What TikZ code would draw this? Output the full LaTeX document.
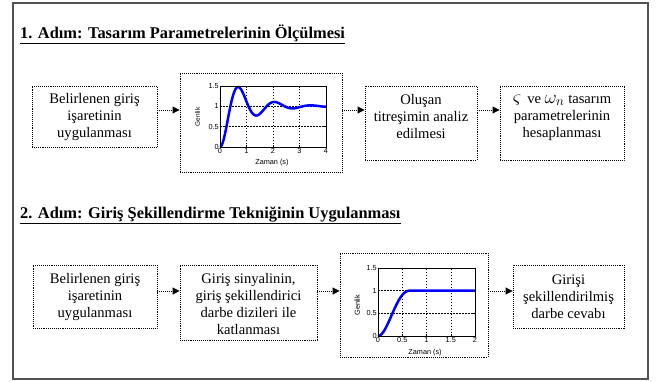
\documentclass[tikz,border=0pt]{standalone}
\usepackage{fontspec}
\usepackage{graphicx}
\setmainfont{Liberation Serif}
\newfontfamily\plotfont{Liberation Sans}
\usetikzlibrary{arrows.meta,calc}
\tikzset{
  frame/.style={draw=black!68, line width=1.8pt},
  box/.style={draw, densely dotted, line width=0.9pt, inner sep=0pt},
  txt/.style={align=center, inner sep=0pt, font=\fontsize{14.6}{17}\selectfont},
  arr/.style={densely dotted, line width=0.9pt, -{Triangle[length=7pt,width=7pt]}},
  ttl/.style={anchor=base west, inner sep=0pt, font=\fontsize{16.4}{19}\selectfont\bfseries},
  gridl/.style={black, line width=0.4pt, dash pattern=on 1.5pt off 1.5pt},
  axis/.style={black, line width=0.5pt},
  tick/.style={font=\plotfont\fontsize{7.3}{8}\selectfont, inner sep=1pt},
  curve/.style={blue, line width=2.5pt, line join=round}
}
\begin{document}
\begin{tikzpicture}[x=1pt,y=-1pt]
\useasboundingbox (0,0) rectangle (656,381);
\fill[white] (0,0) rectangle (656,381);
\draw[frame] (13,3) rectangle (648,379);

% titles
\node[ttl] (t1) at (20,38) {\underline{1. Adım: Tasarım Parametrelerinin Ölçülmesi}};
\node[ttl] (t2) at (20,218) {\underline{2. Adım: Giriş Şekillendirme Tekniğinin Uygulanması}};

% row 1 boxes
\node[box, minimum width=125pt, minimum height=61pt] (b1) at (94.5,116.5) {};
\node[txt] (b1t) at (94.5,117.5) {Belirlenen giriş\\işaretinin\\uygulanması};
\node[box, minimum width=162pt, minimum height=99pt] (b2) at (261,122.5) {};
\node[box, minimum width=112pt, minimum height=74pt] (b3) at (421,123) {};
\node[txt] (b3t) at (421,116.5) {Oluşan\\titreşimin analiz\\edilmesi};
\node[box, minimum width=124pt, minimum height=74pt] (b4) at (562,123) {};
\node[txt] (b4t) at (562,117.5) {\scalebox{1.35}{$\varsigma$}\, ve \scalebox{1.3}{$\omega_{n}$} tasarım\\parametrelerinin\\hesaplanması};

% row 2 boxes
\node[box, minimum width=124pt, minimum height=63pt] (b5) at (95,296.5) {};
\node[txt] (b5t) at (95,297) {Belirlenen giriş\\işaretinin\\uygulanması};
\node[box, minimum width=137pt, minimum height=75pt] (b6) at (248.5,302.5) {};
\node[txt] (b6t) at (248.5,303.5) {Giriş sinyalinin,\\giriş şekillendirici\\darbe dizileri ile\\katlanması};
\node[box, minimum width=148pt, minimum height=104pt] (b7) at (414,305) {};
\node[box, minimum width=111pt, minimum height=63pt] (b8) at (568.5,296.5) {};
\node[txt] (b8t) at (568.5,296.5) {Girişi\\şekillendirilmiş\\darbe cevabı};

% arrows
\coordinate (r1) at (0,110);
\coordinate (r2) at (0,291);
\draw[arr] (b1.east |- r1) -- (b2.west |- r1);
\draw[arr] (b2.east |- r1) -- (b3.west |- r1);
\draw[arr] (b3.east |- r1) -- (b4.west |- r1);
\draw[arr] (b5.east |- r2) -- (b6.west |- r2);
\draw[arr] (b6.east |- r2) -- (b7.west |- r2);
\draw[arr] (b7.east |- r2) -- (b8.west |- r2);

% plot 1
\begin{scope}[xshift=220pt, yshift=-147pt, x=26.5pt, y=40.67pt]
  \foreach \k in {1,2,3} \draw[gridl] (\k,0) -- (\k,1.5);
  \foreach \v in {0.5,1} \draw[gridl] (0,\v) -- (4,\v);
  \foreach \k in {0,...,4} {
    \draw[axis] (\k,0) -- (\k,0.05);
    \draw[axis] (\k,1.5) -- (\k,1.45);
    \node[tick, below] (pa\k) at (\k,0) {\k};
  }
  \foreach \v/\n in {0/a,0.5/b,1/c,1.5/d} {
    \draw[axis] (0,\v) -- (0.08,\v);
    \draw[axis] (4,\v) -- (3.92,\v);
    \node[tick, left] (pl\n) at (0,\v) {\v};
  }
  \draw[curve] plot[domain=0:4, samples=240] (\x,{1-exp(-1.088*\x)*(cos(deg(4.6*\x))+0.2365*sin(deg(4.6*\x)))});
  \draw[axis] (0,0) rectangle (4,1.5);
  \node[tick, rotate=90, font=\plotfont\fontsize{6.5}{7}\selectfont] (g1) at (-0.85,0.74) {Genlik};
  \node[tick] (z1) at (1.96,-0.39) {Zaman (s)};
\end{scope}

% plot 2
\begin{scope}[xshift=378pt, yshift=-336pt, x=48.5pt, y=45.33pt]
  \foreach \k in {0.5,1,1.5} \draw[gridl] (\k,0) -- (\k,1.5);
  \foreach \v in {0.5,1} \draw[gridl] (0,\v) -- (2,\v);
  \foreach \k/\n in {0/a,0.5/b,1/c,1.5/d,2/e} {
    \draw[axis] (\k,0) -- (\k,0.05);
    \draw[axis] (\k,1.5) -- (\k,1.45);
    \node[tick, below] (qa\n) at (\k,0) {\k};
  }
  \foreach \v/\n in {0/a,0.5/b,1/c,1.5/d} {
    \draw[axis] (0,\v) -- (0.04,\v);
    \draw[axis] (2,\v) -- (1.96,\v);
    \node[tick, left] (ql\n) at (0,\v) {\v};
  }
  \draw[curve] plot[domain=0:0.65, samples=120] (\x,{0.677*(1-exp(-1.088*1.0508*\x)*(cos(deg(4.6*1.0508*\x))+0.2365*sin(deg(4.6*1.0508*\x))))}) -- (2,1);
  \draw[axis] (0,0) rectangle (2,1.5);
  \node[tick, rotate=90] (g2) at (-0.43,0.68) {Genlik};
  \node[tick] (z2) at (0.97,-0.375) {Zaman (s)};
\end{scope}
\end{tikzpicture}
\end{document}
